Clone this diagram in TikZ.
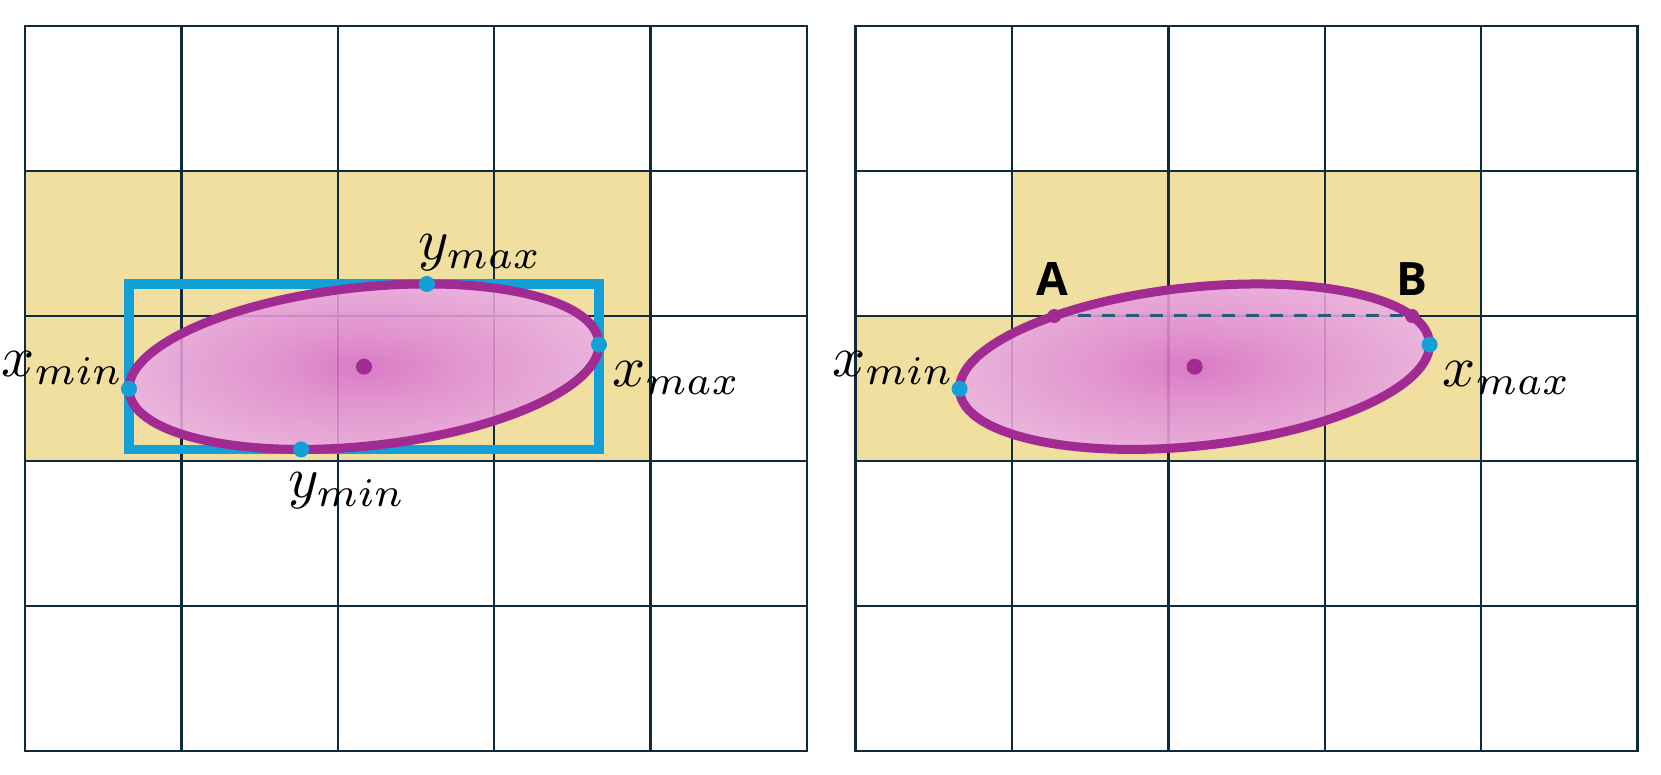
\documentclass[tikz,border=0pt]{standalone}
\usepackage{graphicx}
\usepackage{fontspec}
\newfontfamily\labfont{Open Sans}
\definecolor{gridc}{RGB}{14,42,59}
\definecolor{yel}{RGB}{241,223,160}
\definecolor{blu}{RGB}{18,160,215}
\definecolor{pur}{RGB}{161,43,146}
\definecolor{pinkc}{RGB}{216,110,204}
\definecolor{pinka}{RGB}{224,140,214}
\definecolor{pinkm}{RGB}{236,184,232}
\definecolor{pinke}{RGB}{246,214,242}
\definecolor{dashc}{RGB}{38,92,122}
\pgfdeclareradialshading{ellshade}{\pgfpoint{0bp}{0bp}}{color(0bp)=(pinkc); color(10bp)=(pinka); color(30bp)=(pinkm); color(50bp)=(pinke)}
\newcommand{\bigmath}[1]{\scalebox{5.8}{$#1$}}
\begin{document}
\begin{tikzpicture}[x=1pt,y=-1pt,
  gridline/.style={draw=gridc, line width=2.5pt, line cap=rect},
  cellfill/.style={fill=yel},
  bbox/.style={draw=blu, line width=9.5pt},
  ellfill/.style={shading=ellshade, opacity=0.88},
  ellline/.style={draw=pur, line width=9pt},
  bdot/.style={fill=blu},
  pdot/.style={fill=pur},
  mathlab/.style={inner sep=0pt, font=\fontsize{10}{12}\selectfont},
  ptlab/.style={inner sep=0pt, font=\labfont\bfseries\fontsize{46}{52}\selectfont},
  chord/.style={draw=dashc, line width=3pt, dash pattern=on 13pt off 11pt}
]
\useasboundingbox (0,0) rectangle (1661,775);
% yellow cells
\fill[cellfill] (25,171) rectangle (650.6,461);
\fill[cellfill] (1012,171) rectangle (1481.2,316);
\fill[cellfill] (855.6,316) rectangle (1481.2,461);
% grids
\foreach \ox in {25,855.6}{
  \foreach \i in {0,...,5}{
    \draw[gridline] ({\ox+\i*156.4},26) -- ({\ox+\i*156.4},751);
    \draw[gridline] (\ox,{26+\i*145}) -- ({\ox+5*156.4},{26+\i*145});
  }
}
% ---------- left panel ----------
\coordinate (LE) at (364,366.7);
\coordinate (Lxmin) at (129,388.8);
\coordinate (Lxmax) at (599,344.6);
\coordinate (Lymax) at (426.9,284.0);
\coordinate (Lymin) at (301.1,449.4);
\draw[bbox] (Lxmin |- Lymax) rectangle (Lxmax |- Lymin);
\shade[ellfill, rotate around={6.07:(LE)}] (LE) ellipse [x radius=236.2pt, y radius=79.3pt];
\draw[ellline, rotate around={6.07:(LE)}] (LE) ellipse [x radius=236.2pt, y radius=79.3pt];
\fill[pdot] (LE) circle[radius=8pt];
\fill[bdot] (Lxmin) circle[radius=8pt];
\fill[bdot] (Lxmax) circle[radius=8pt];
\fill[bdot] (Lymax) circle[radius=8pt];
\fill[bdot] (Lymin) circle[radius=8pt];
\node[mathlab, anchor=base east] (Lxminlab) at (124,376) {\bigmath{x_{min}}};
\node[mathlab, anchor=base west] (Lxmaxlab) at (612,386) {\bigmath{x_{max}}};
\node[mathlab, anchor=base west] (Lymaxlab) at (418,259.5) {\bigmath{y_{max}}};
\node[mathlab, anchor=base west] (Lyminlab) at (288,497.5) {\bigmath{y_{min}}};
% ---------- right panel ----------
\coordinate (RE) at (1194.6,366.7);
\coordinate (Rxmin) at (959.6,388.8);
\coordinate (Rxmax) at (1429.6,344.6);
\coordinate (RA) at (1054.3,316);
\coordinate (RB) at (1412,316);
\shade[ellfill, rotate around={6.07:(RE)}] (RE) ellipse [x radius=236.2pt, y radius=79.3pt];
\draw[chord] (RA) -- (RB);
\draw[ellline, rotate around={6.07:(RE)}] (RE) ellipse [x radius=236.2pt, y radius=79.3pt];
\fill[pdot] (RE) circle[radius=8pt];
\fill[pdot] (RA) circle[radius=7pt];
\fill[pdot] (RB) circle[radius=7pt];
\fill[bdot] (Rxmin) circle[radius=8pt];
\fill[bdot] (Rxmax) circle[radius=8pt];
\node[mathlab, anchor=base east] (Rxminlab) at (954.6,376) {\bigmath{x_{min}}};
\node[mathlab, anchor=base west] (Rxmaxlab) at (1442.6,386) {\bigmath{x_{max}}};
\node[ptlab] (Alab) at (1052,279) {A};
\node[ptlab] (Blab) at (1412,279) {B};
\end{tikzpicture}
\end{document}
